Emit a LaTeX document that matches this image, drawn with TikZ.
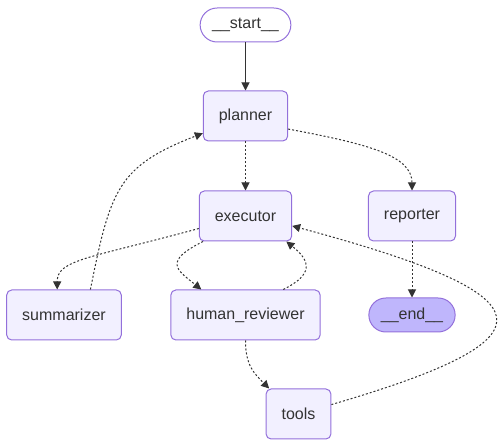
\documentclass[tikz,border=0pt]{standalone}
\usepackage{fontspec}
\setmainfont{Liberation Sans}
\usepackage{xcolor}
\usepackage{tikz}
\usetikzlibrary{positioning,arrows.meta}

\definecolor{nodefill}{HTML}{F2F0FF}
\definecolor{nodeline}{HTML}{9370DB}
\definecolor{endfill}{HTML}{BFB6FC}
\definecolor{ink}{HTML}{333333}

\begin{document}
\begin{tikzpicture}[
  x=1pt, y=1pt,
  node distance=99pt,
  font=\fontsize{16}{19}\selectfont,
  box/.style={rectangle, draw=nodeline, line width=1pt, rounded corners=5pt, fill=nodefill, text=ink, inner xsep=15.5pt, minimum height=50pt},
  pill/.style={rectangle, draw=nodeline, line width=1pt, rounded corners=17pt, text=ink, inner xsep=12pt, minimum height=34pt},
  link/.style={-{Triangle[length=8pt,width=8pt]}, draw=ink, line width=1pt},
  flow/.style={link, dash pattern=on 2pt off 2pt}
]
\useasboundingbox (0,0) rectangle (499,447);

% Entry
\node[pill] (start) at (245.5,422) {\_\_start\_\_};

% Main column
\node[box, below of=start, yshift=8pt] (planner) {planner};
\node[box, below of=planner, yshift=-1pt] (executor) {executor};
\node[box, below of=executor] (human_reviewer) {human\_reviewer};
\node[box, below of=human_reviewer, xshift=53pt] (tools) {tools};

% Side nodes
\node[box, left of=human_reviewer, xshift=-82.5pt] (summarizer) {summarizer};
\node[box, right of=executor, xshift=67.5pt] (reporter) {reporter};
\node[pill, fill=endfill, below of=reporter] (end) {\_\_end\_\_};

% Arrows
\draw[link] (start) -- (planner);
\draw[flow] (planner) -- (executor);
\draw[flow] (planner.-17) .. controls +(80,-15) and +(0,35) .. (reporter.north);
\draw[flow] (executor.195) .. controls +(-110,-30) and +(0,30) .. (summarizer.105);
\draw[flow] (summarizer.44) .. controls +(20,100) and +(-85,-33) .. (planner.202);
\draw[flow] (executor.211) .. controls +(-40,-20) and +(-25,20) .. (human_reviewer.150);
\draw[flow] (human_reviewer.34) .. controls +(30,15) and +(25,-20) .. (executor.-32);
\draw[flow] (human_reviewer.south) .. controls +(0,-25) and +(-15,15) .. (tools.139);
\draw[flow] (reporter) -- (end);

% Loop back from tools
\draw[flow] (tools.16) .. controls +(230,67) and +(260,-70) .. (executor.-12);

\end{tikzpicture}
\end{document}
